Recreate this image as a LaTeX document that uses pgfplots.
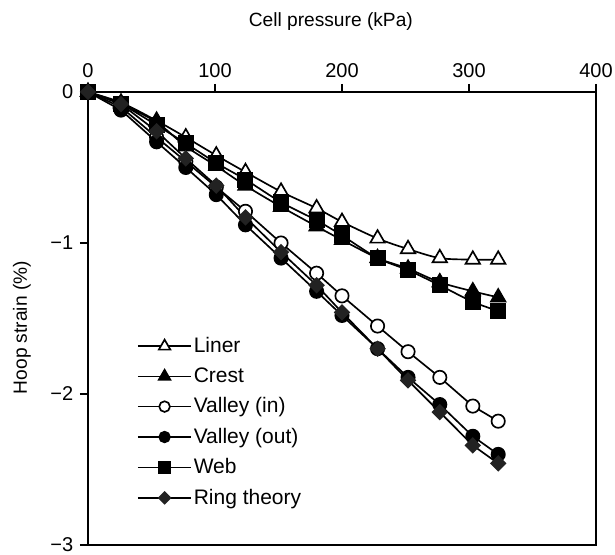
\documentclass[border=0pt]{standalone}
\usepackage{pgfplots}
\pgfplotsset{compat=1.18}
\usepackage{pgfplotstable}
\usepackage{fontspec}
\setmainfont{Liberation Sans}
\usetikzlibrary{calc}

\pgfplotstableread{
x     liner  crest  vin    vout   web    ring
0     0      0      0      0      0      0
26   -0.07  -0.08  -0.10  -0.12  -0.08  -0.08
54   -0.19  -0.20  -0.30  -0.33  -0.22  -0.26
77   -0.30  -0.36  -0.46  -0.50  -0.34  -0.44
101  -0.42  -0.49  -0.63  -0.68  -0.47  -0.62
124  -0.53  -0.62  -0.79  -0.88  -0.58  -0.83
152  -0.66  -0.76  -1.00  -1.10  -0.73  -1.06
180  -0.77  -0.89  -1.20  -1.32  -0.85  -1.28
200  -0.86  -0.98  -1.35  -1.48  -0.95  -1.46
228  -0.97  -1.10  -1.55  -1.70  -1.10  -1.70
252  -1.04  -1.17  -1.72  -1.89  -1.18  -1.91
277  -1.10  -1.26  -1.89  -2.07  -1.28  -2.12
303  -1.11  -1.32  -2.08  -2.28  -1.39  -2.34
323  -1.11  -1.36  -2.18  -2.40  -1.45  -2.46
}\datatable

\definecolor{ringc}{HTML}{222222}

\begin{document}
\fontsize{11.5}{13.8}\selectfont
\begin{tikzpicture}
\begin{axis}[
  name=ax,
  scale only axis,
  width=304.8pt, height=271.8pt,
  xmin=0, xmax=400, ymin=-3, ymax=0,
  xtick={0,100,200,300,400},
  ytick={-3,-2,-1,0},
  yticklabels={−3,−2,−1,0},
  xtick pos=right, xticklabel pos=right,
  ytick pos=left,
  tick align=outside,
  major tick length=4.8pt,
  axis line style={line width=1.3pt},
  axis background/.style={draw=black, line width=1.3pt},
  every tick/.style={line width=1.2pt, black},
  /pgf/number format/assume math mode=true,
  tick label style={font=\fontsize{12}{14.4}\selectfont},
  xlabel={Cell pressure (kPa)},
  xlabel style={at={(axis description cs:0.478,1)}, anchor=center, yshift=42pt},
  ylabel={Hoop strain (\%)},
  ylabel style={at={(axis description cs:-0.13,0.48)}, anchor=center},
  legend style={draw=none, fill=none, at={(0.096,0.463)}, anchor=north west,
    font=\fontsize{12.6}{15}\selectfont, row sep=5.4pt, inner sep=0pt,
    nodes={inner sep=1pt}},
  legend cell align=left,
  legend image code/.code={%
    \draw[mark repeat=2,mark phase=2,#1, every mark/.append style={scale=0.8}] plot coordinates {(0pt,0pt) (16pt,0pt) (32pt,0pt)};},
  every axis plot/.append style={line width=1pt, black},
  clip=false,
]
\addplot[smooth, tension=0.5, mark=triangle*, mark size=5pt, mark options={fill=white, line width=1pt}] table[x=x,y=liner] {\datatable};
\addlegendentry{Liner}
\addplot[smooth, tension=0.5, mark=triangle*, mark size=5pt, mark options={fill=black}] table[x=x,y=crest] {\datatable};
\addlegendentry{Crest}
\addplot[mark=*, mark size=4pt, mark options={fill=white, line width=1pt}] table[x=x,y=vin] {\datatable};
\addlegendentry{Valley (in)}
\addplot[mark=*, mark size=4pt, mark options={fill=black}] table[x=x,y=vout] {\datatable};
\addlegendentry{Valley (out)}
\addplot[smooth, tension=0.5, mark=square*, mark size=4.3pt, mark options={fill=black}] table[x=x,y=web] {\datatable};
\addlegendentry{Web}
\addplot[mark=square*, mark size=3pt, mark options={fill=ringc, draw=ringc, rotate=45}] table[x=x,y=ring] {\datatable};
\addlegendentry{Ring theory}
\end{axis}
\draw[black, line width=1.6pt] (ax.south west) -- (ax.south east) -- (ax.north east);
\pgfresetboundingbox
\path[use as bounding box] ($(ax.south west)+(-52.8pt,-6pt)$) rectangle ($(ax.north east)+(11.4pt,55.2pt)$);
\end{tikzpicture}
\end{document}
